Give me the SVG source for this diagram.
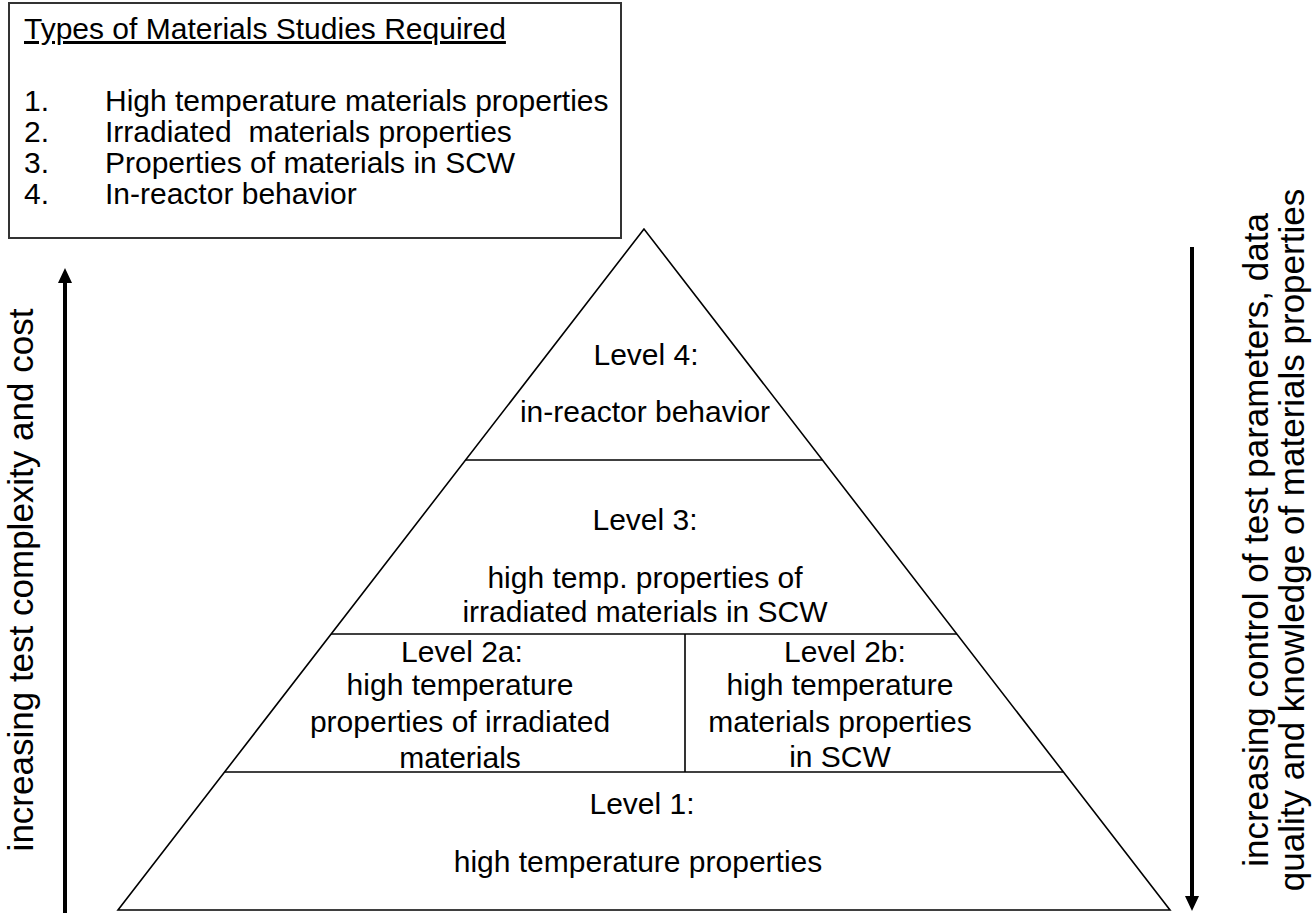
<svg xmlns="http://www.w3.org/2000/svg" width="1315" height="915" viewBox="0 0 1315 915">
<style>
  text { font-family: "Liberation Sans", Arial, sans-serif; fill: #000; }
  .t { font-size: 30px; }
  .p { font-size: 30px; text-anchor: middle; }
  .ax { font-size: 35px; text-anchor: middle; }
  .ln { stroke: #000; stroke-width: 1.6; fill: none; }
  .shaft { stroke: #000; stroke-width: 4; fill: none; }
  .head { fill: #000; }
</style>
<rect width="1315" height="915" fill="#fff"/>

<g id="legend">
  <rect x="9" y="3" width="612" height="235" fill="#fff" stroke="#333" stroke-width="2"/>
  <text class="t" x="24" y="39" text-decoration="underline">Types of Materials Studies Required</text>
  <text class="t" x="24" y="111">1.</text><text class="t" x="105" y="111">High temperature materials properties</text>
  <text class="t" x="24" y="142">2.</text><text class="t" x="105" y="142" xml:space="preserve">Irradiated  materials properties</text>
  <text class="t" x="24" y="173">3.</text><text class="t" x="105" y="173">Properties of materials in SCW</text>
  <text class="t" x="24" y="204">4.</text><text class="t" x="105" y="204">In-reactor behavior</text>
</g>

<g id="pyramid">
  <polygon points="644,229 118,910 1170,910" fill="#fff" stroke="#000" stroke-width="1.6"/>
</g>

<g id="connectors">
  <line class="ln" x1="465.6" y1="460" x2="822.4" y2="460"/>
  <line class="ln" x1="331" y1="634" x2="957" y2="634"/>
  <line class="ln" x1="224.6" y1="772" x2="1063.4" y2="772"/>
  <line class="ln" x1="685" y1="634" x2="685" y2="772"/>
  <line class="shaft" x1="65" y1="913" x2="65" y2="280"/>
  <polygon class="head" points="65,268 58,283 72,283"/>
  <line class="shaft" x1="1192" y1="247" x2="1192" y2="897"/>
  <polygon class="head" points="1192,911 1185,896 1199,896"/>
</g>

<g id="level4">
  <text class="p" x="646" y="365">Level 4:</text>
  <text class="p" x="645" y="422">in-reactor behavior</text>
</g>
<g id="level3">
  <text class="p" x="645" y="530">Level 3:</text>
  <text class="p" x="645" y="588">high temp. properties of</text>
  <text class="p" x="645" y="622">irradiated materials in SCW</text>
</g>
<g id="level2a">
  <text class="p" x="462" y="662">Level 2a:</text>
  <text class="p" x="460" y="695">high temperature</text>
  <text class="p" x="460" y="732">properties of irradiated</text>
  <text class="p" x="460" y="768">materials</text>
</g>
<g id="level2b">
  <text class="p" x="845" y="662">Level 2b:</text>
  <text class="p" x="840" y="695">high temperature</text>
  <text class="p" x="840" y="732">materials properties</text>
  <text class="p" x="840" y="767">in SCW</text>
</g>
<g id="level1">
  <text class="p" x="642" y="814">Level 1:</text>
  <text class="p" x="638" y="872">high temperature properties</text>
</g>

<g id="axis-left">
  <text class="ax" transform="translate(33,580) rotate(-90)">increasing test complexity and cost</text>
</g>
<g id="axis-right">
  <text class="ax" transform="translate(1268,540) rotate(-90)">increasing control of test parameters, data</text>
  <text class="ax" transform="translate(1304,540) rotate(-90)">quality and knowledge of materials properties</text>
</g>
</svg>
